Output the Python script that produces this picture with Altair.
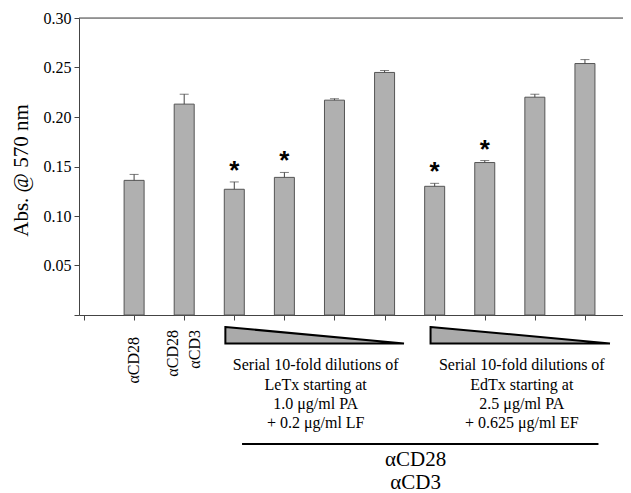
import altair as alt
import pandas as pd

# ---- data ----
bar_pos = [1, 2, 3, 4, 5, 6, 7, 8, 9, 10]
bar_names = ["aCD28", "aCD28+aCD3", "LeTx 1", "LeTx 2", "LeTx 3", "LeTx 4",
             "EdTx 1", "EdTx 2", "EdTx 3", "EdTx 4"]
values = [0.136, 0.213, 0.127, 0.139, 0.217, 0.245, 0.130, 0.154, 0.220, 0.254]
errors = [0.006, 0.010, 0.0074, 0.005, 0.0015, 0.002, 0.003, 0.002, 0.003, 0.004]
significant = [False, False, True, True, False, False, True, True, False, False]

y_ticks = [0.0, 0.05, 0.10, 0.15, 0.20, 0.25, 0.30]
x_ticks = [0, 1, 2, 3, 4, 5, 6, 7, 8, 9, 10]

# annotation content (in data units of the chart)
rot_text = ["αCD28", "αCD28", "αCD3"]
rot_x = [1.0, 1.783, 2.214]
rot_y = [-0.0222, -0.0152, -0.0152]

wedge_group = ["LeTx", "LeTx", "EdTx", "EdTx"]
wedge_x = [2.822, 6.388, 6.918, 10.50]
wedge_top = [-0.0121, -0.0288, -0.0121, -0.0288]
wedge_bottom = [-0.0288, -0.0288, -0.0288, -0.0288]

desc_text = ["Serial 10-fold dilutions of", "LeTx starting at", "1.0 μg/ml PA", "+ 0.2 μg/ml LF",
             "Serial 10-fold dilutions of", "EdTx starting at", "2.5 μg/ml PA", "+ 0.625 μg/ml EF"]
desc_x = [4.625] * 4 + [8.74] * 4
desc_y = [-0.0505, -0.0707, -0.0899, -0.1091] * 2

bracket_x = [3.155]
bracket_x2 = [10.27]
bracket_y = [-0.1303]

bottom_text = ["αCD28", "αCD3"]
bottom_x = [6.62, 6.62]
bottom_y = [-0.1465, -0.1697]

SERIF = "Liberation Serif"
AXIS_COLOR = "#444444"

df = pd.DataFrame({"x": bar_pos, "name": bar_names, "v": values, "err": errors, "sig": significant})
df["top"] = df["v"] + df["err"]
stars = df[df["sig"]]

xscale = alt.Scale(domain=[0, 10.66], nice=False, zero=False)
yscale = alt.Scale(domain=[0, 0.30], nice=False, zero=False)

xaxis = alt.Axis(values=x_ticks, labels=False, title=None, grid=False, tickSize=5,
                 domainColor=AXIS_COLOR, tickColor=AXIS_COLOR, domainWidth=1)
yaxis = alt.Axis(values=y_ticks, grid=False, tickSize=5, labelPadding=3,
                 labelExpr="datum.value == 0 ? '' : format(datum.value, '.2f')",
                 labelFont=SERIF, labelFontSize=16, labelColor="black",
                 domainColor=AXIS_COLOR, tickColor=AXIS_COLOR,
                 title="Abs. @ 570 nm", titleFont=SERIF, titleFontSize=21,
                 titleFontWeight="normal", titleColor="black",
                 titleX=-58, titleY=152, titleAngle=270, titleAlign="center",
                 titleBaseline="middle")

base = alt.Chart(df)

bars = base.mark_bar(size=20, fill="#b0b0b0", stroke="#555555", strokeWidth=1).encode(
    x=alt.X("x:Q", scale=xscale, axis=xaxis),
    y=alt.Y("v:Q", scale=yscale, axis=yaxis),
)

err_rule = base.mark_rule(color="#444444", strokeWidth=1).encode(
    x="x:Q", y="v:Q", y2="top:Q"
)
err_cap = base.mark_tick(orient="horizontal", size=9, thickness=1, color="#444444").encode(
    x="x:Q", y="top:Q"
)

star_marks = alt.Chart(stars).mark_text(
    text="*", font="Liberation Sans", fontSize=26, fontWeight="bold",
    baseline="alphabetic", dy=-3, color="black"
).encode(x="x:Q", y="top:Q")

top_line = alt.Chart(pd.DataFrame({"y": [0.30]})).mark_rule(color=AXIS_COLOR, strokeWidth=1).encode(
    y="y:Q", x=alt.value(0), x2=alt.value(544)
)

rot = alt.Chart(pd.DataFrame({"x": rot_x, "y": rot_y, "t": rot_text})).mark_text(
    font=SERIF, fontSize=16, angle=270, align="right", baseline="middle", color="black"
).encode(x="x:Q", y="y:Q", text="t:N")

wedges = alt.Chart(pd.DataFrame({"g": wedge_group, "x": wedge_x, "yt": wedge_top, "yb": wedge_bottom})).mark_area(
    orient="vertical", fill="#aaaaaa", stroke="black", strokeWidth=2, interpolate="linear"
).encode(x="x:Q", y="yt:Q", y2="yb:Q", detail="g:N")

desc = alt.Chart(pd.DataFrame({"x": desc_x, "y": desc_y, "t": desc_text})).mark_text(
    font=SERIF, fontSize=16, align="center", baseline="middle", color="black"
).encode(x="x:Q", y="y:Q", text="t:N")

bracket = alt.Chart(pd.DataFrame({"x": bracket_x, "x2": bracket_x2, "y": bracket_y})).mark_rule(
    color="black", strokeWidth=2
).encode(x="x:Q", x2="x2:Q", y="y:Q")

bottom = alt.Chart(pd.DataFrame({"x": bottom_x, "y": bottom_y, "t": bottom_text})).mark_text(
    font=SERIF, fontSize=21, align="center", baseline="middle", color="black"
).encode(x="x:Q", y="y:Q", text="t:N")

chart = alt.layer(
    top_line, bars, err_rule, err_cap, star_marks, rot, wedges, desc, bracket, bottom
).properties(
    width=544, height=297,
    padding={"left": 71, "top": 10, "right": 0, "bottom": 178},
    autosize=alt.AutoSizeParams(type="none"),
).configure_view(stroke=None).configure(background="white")

chart.save("out.html", embed_options={"renderer": "svg", "actions": False})
